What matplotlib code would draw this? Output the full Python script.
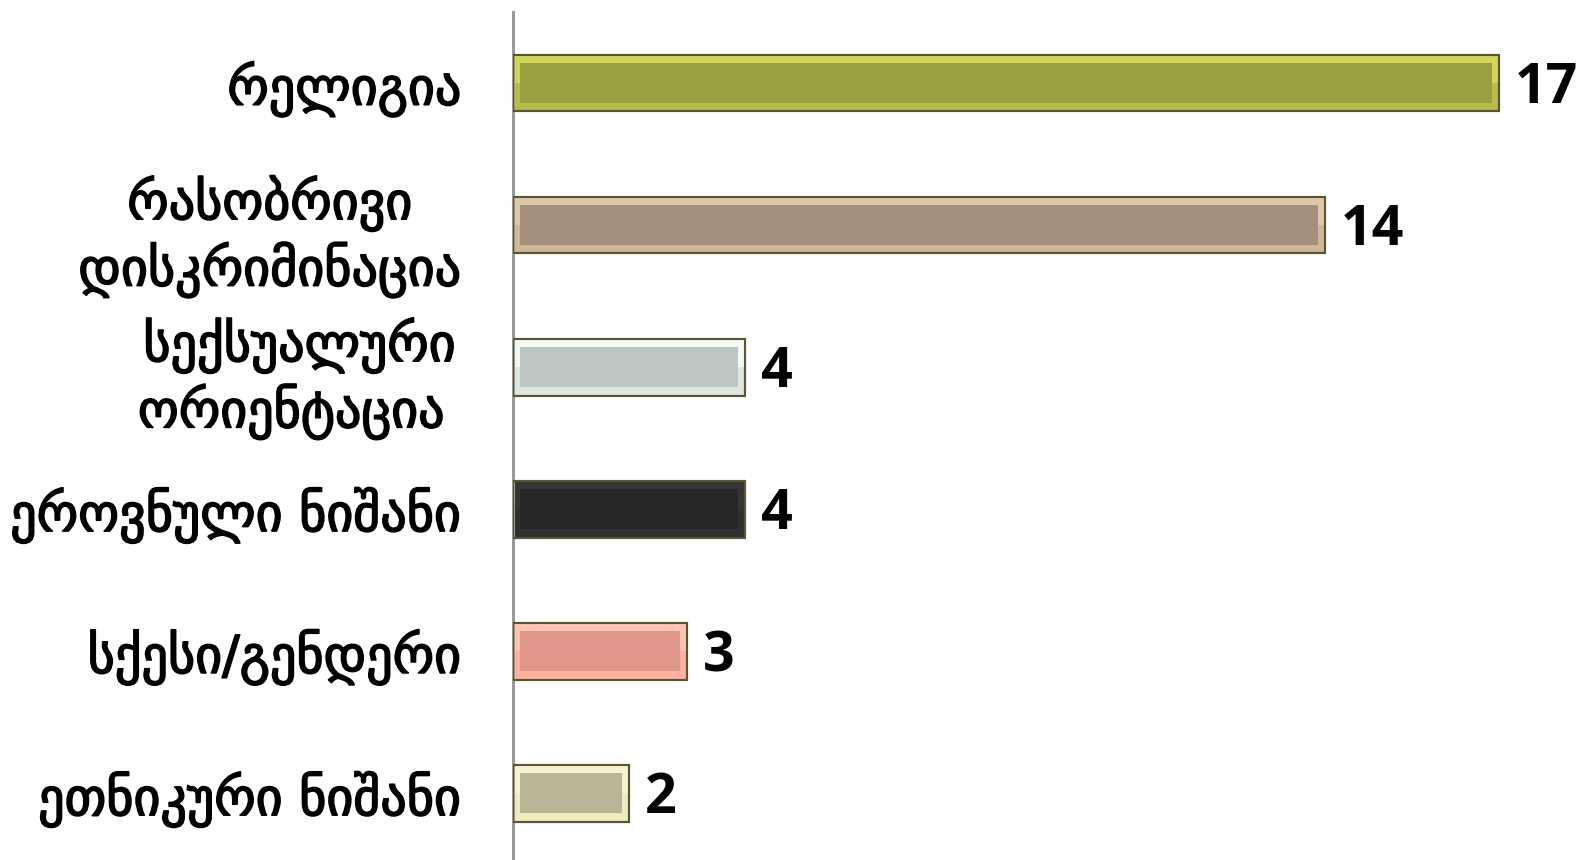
import matplotlib
matplotlib.use("Agg")
import matplotlib.pyplot as plt
import matplotlib.patheffects as pe

categories = ["რელიგია", "რასობრივი\nდისკრიმინაცია", "სექსუალური\nორიენტაცია ",
              "ეროვნული ნიშანი", "სქესი/გენდერი", "ეთნიკური ნიშანი"]
values = [17, 14, 4, 4, 3, 2]
inner_colors = ["#9C9F3F", "#A4917D", "#BEC6C2", "#272727", "#E0968A", "#B9B698"]
top_bevel = ["#D2D55A", "#DDC9AA", "#F2FAF6", "#363636", "#FFC4B2", "#F6F3D0"]
bottom_bevel = ["#B8BC4A", "#CDB89A", "#DDE7E2", "#303030", "#FFB0A0", "#EEEBC0"]

fig = plt.figure(figsize=(15.83, 8.6), dpi=100)
ax = fig.add_axes([513 / 1583, 0.0, 1 - 513 / 1583, 1 - 12 / 860])

pos = list(range(len(categories)))
bar_h = 0.40
ax.barh(pos, values, height=bar_h, color=bottom_bevel, edgecolor="#5A5530", linewidth=1.5, zorder=2)
ax.barh([p - bar_h / 4 for p in pos], values, height=bar_h / 2, color=top_bevel,
        linewidth=0, zorder=2.5)
ax.barh(pos, values, height=bar_h, color="none", edgecolor="#5A5530", linewidth=1.5, zorder=4)
inset = 0.12
ax.barh(pos, [v - 2 * inset for v in values], left=inset, height=0.28,
        color=inner_colors, linewidth=0, zorder=3)

for p, v in zip(pos, values):
    ax.text(v + 0.28, p + 0.04, str(v), va="center", ha="left", fontsize=40,
            fontweight="bold", family="Open Sans", color="black")

ax.set_ylim(5.47, -0.5)
ax.set_xlim(0, 18.45)
ax.set_yticks(pos)
ax.set_yticklabels(categories, fontsize=37.5, family="DejaVu Sans")
for t in ax.get_yticklabels():
    t.set_multialignment("center")
    t.set_linespacing(1.25)
    t.set_path_effects([pe.withStroke(linewidth=1.2, foreground="black")])
ax.tick_params(axis="y", length=0, pad=37)
ax.set_xticks([])
for s in ["top", "right", "bottom"]:
    ax.spines[s].set_visible(False)
ax.spines["left"].set_color("#9A9A9A")
ax.spines["left"].set_linewidth(2.2)

fig.savefig("out.png", dpi=100)
